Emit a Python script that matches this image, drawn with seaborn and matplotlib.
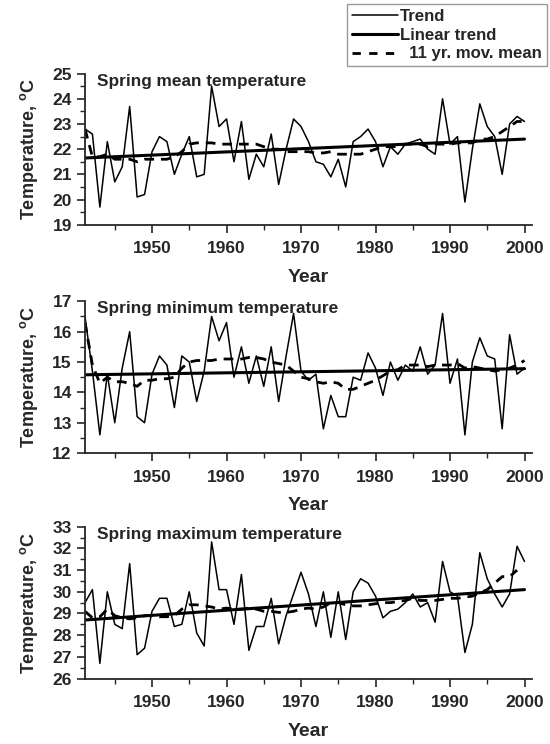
import numpy as np
import pandas as pd
import matplotlib
matplotlib.use("Agg")
import matplotlib.pyplot as plt
from matplotlib.ticker import MultipleLocator
from matplotlib.lines import Line2D
import seaborn as sns

# ---- data ----
years = list(range(1941, 2001))

mean_temp = [22.8, 22.6, 19.7, 22.3, 20.7, 21.3, 23.7, 20.1, 20.2, 21.9,
             22.5, 22.3, 21.0, 21.8, 22.5, 20.9, 21.0, 24.5, 22.9, 23.2,
             21.5, 23.1, 20.8, 21.8, 21.3, 22.6, 20.6, 22.0, 23.2, 22.9,
             22.3, 21.5, 21.4, 20.9, 21.6, 20.5, 22.3, 22.5, 22.8, 22.3,
             21.3, 22.1, 21.8, 22.2, 22.3, 22.4, 22.0, 21.8, 24.0, 22.2,
             22.5, 19.9, 22.0, 23.8, 22.9, 22.5, 21.0, 23.0, 23.3, 23.1]
mean_mov = [22.8, 21.7, 21.7, 21.8, 21.6, 21.6, 21.6, 21.5, 21.6, 21.6,
            21.6, 21.6, 21.7, 21.9, 22.2, 22.25, 22.25, 22.25, 22.2, 22.2,
            22.2, 22.2, 22.2, 22.2, 22.1, 22.0, 22.0, 21.9, 21.9, 21.9,
            21.9, 21.85, 21.85, 21.9, 21.8, 21.8, 21.8, 21.8, 21.9, 22.0,
            22.1, 22.1, 22.1, 22.2, 22.2, 22.2, 22.1, 22.2, 22.2, 22.2,
            22.25, 22.25, 22.25, 22.4, 22.4, 22.5, 22.7, 22.9, 23.1, 23.1]
mean_lin = [21.65, 22.4]

min_temp = [16.5, 14.7, 12.6, 14.6, 13.0, 14.8, 16.0, 13.2, 13.0, 14.6,
            15.2, 14.9, 13.5, 15.2, 15.0, 13.7, 14.7, 16.5, 15.7, 16.3,
            14.5, 15.5, 14.3, 15.2, 14.2, 15.5, 13.7, 15.2, 16.6, 14.7,
            14.4, 14.6, 12.8, 13.9, 13.2, 13.2, 14.5, 14.4, 15.3, 14.8,
            13.9, 15.0, 14.4, 14.9, 14.7, 15.5, 14.6, 14.9, 16.6, 14.3,
            15.1, 12.6, 15.0, 15.8, 15.2, 15.1, 12.8, 15.9, 14.6, 14.8]
min_mov = [16.3, 14.9, 14.3, 14.5, 14.35, 14.35, 14.3, 14.2, 14.4, 14.4,
           14.45, 14.45, 14.5, 14.8, 15.0, 15.05, 15.05, 15.05, 15.1, 15.1,
           15.1, 15.1, 15.15, 15.15, 15.1, 15.0, 14.95, 14.9, 14.7, 14.5,
           14.45, 14.35, 14.3, 14.35, 14.3, 14.1, 14.1, 14.2, 14.3, 14.4,
           14.55, 14.7, 14.75, 14.9, 14.9, 14.9, 14.85, 14.9, 14.9, 14.9,
           14.95, 14.8, 14.85, 14.8, 14.75, 14.7, 14.75, 14.8, 14.9, 15.05]
min_lin = [14.58, 14.78]

max_temp = [29.5, 30.1, 26.7, 30.0, 28.5, 28.3, 31.3, 27.1, 27.4, 29.1,
            29.7, 29.7, 28.4, 28.5, 30.0, 28.1, 27.5, 32.3, 30.1, 30.1,
            28.5, 30.8, 27.3, 28.4, 28.4, 29.7, 27.6, 28.9, 29.9, 30.9,
            29.9, 28.4, 30.0, 27.9, 30.0, 27.8, 30.0, 30.6, 30.4, 29.8,
            28.8, 29.1, 29.2, 29.5, 29.9, 29.3, 29.5, 28.6, 31.4, 30.0,
            29.8, 27.2, 28.5, 31.8, 30.6, 29.9, 29.3, 29.9, 32.1, 31.4]
max_mov = [29.1, 28.8, 28.85, 29.2, 28.9, 28.8, 28.75, 28.8, 28.9, 28.9,
           28.85, 28.85, 28.9, 29.2, 29.4, 29.4, 29.35, 29.3, 29.2, 29.25,
           29.2, 29.2, 29.25, 29.2, 29.1, 29.1, 29.05, 29.05, 29.1, 29.2,
           29.25, 29.2, 29.3, 29.5, 29.5, 29.4, 29.35, 29.35, 29.4, 29.45,
           29.5, 29.5, 29.55, 29.6, 29.7, 29.6, 29.6, 29.6, 29.65, 29.7,
           29.7, 29.75, 29.8, 29.95, 30.1, 30.4, 30.7, 30.7, 31.0, np.nan]
max_lin = [28.7, 30.1]

titles = ["Spring mean temperature", "Spring minimum temperature",
          "Spring maximum temperature"]
ylims = [(19, 25), (12, 17), (26, 33)]

# ---- style ----
sns.set_style("ticks")
plt.rcParams['font.family'] = ['Liberation Sans', 'DejaVu Sans']
plt.rcParams['font.weight'] = 'bold'
plt.rcParams['mathtext.fontset'] = 'custom'
plt.rcParams['mathtext.rm'] = 'Liberation Sans:bold'
plt.rcParams['mathtext.bf'] = 'Liberation Sans:bold'

fig = plt.figure(figsize=(5.5, 7.44), dpi=100)
# axes rectangles [left, bottom, width, height]
boxes = [[0.1545, 0.698, 0.8127, 0.203],
         [0.1545, 0.391, 0.8127, 0.204],
         [0.1545, 0.088, 0.8127, 0.204]]

panels = [(mean_temp, mean_mov, mean_lin),
          (min_temp, min_mov, min_lin),
          (max_temp, max_mov, max_lin)]

dash = (0, (3.5, 2.5))

for box, (temp, mov, lin), title, ylim in zip(boxes, panels, titles, ylims):
    ax = fig.add_axes(box)
    df = pd.DataFrame({"year": years, "temp": temp, "mov": mov})
    lin_df = pd.DataFrame({"year": [years[0], years[-1]], "lin": lin})

    sns.lineplot(data=df, x="year", y="temp", ax=ax, color="black", lw=1.1)
    sns.lineplot(data=df, x="year", y="mov", ax=ax, color="black", lw=2.0,
                 linestyle=dash)
    sns.lineplot(data=lin_df, x="year", y="lin", ax=ax, color="black", lw=2.2)

    ax.set_xlim(1941, 2001)
    ax.set_ylim(*ylim)
    ax.xaxis.set_major_locator(MultipleLocator(10))
    ax.xaxis.set_minor_locator(MultipleLocator(5))
    ax.yaxis.set_major_locator(MultipleLocator(1))
    ax.yaxis.set_minor_locator(MultipleLocator(0.5))
    ax.tick_params(which="major", length=6, width=1.2, labelsize=12.5,
                   direction="out")
    ax.tick_params(which="minor", length=3.5, width=1.0, direction="out")
    ax.tick_params(axis="x", which="major", pad=6)
    ax.tick_params(axis="y", which="major", pad=3.5)
    for lab in ax.get_xticklabels() + ax.get_yticklabels():
        lab.set_fontweight("bold")
    for s in ["left", "bottom"]:
        ax.spines[s].set_linewidth(1.3)
    sns.despine(ax=ax)

    ax.set_xlabel("Year", fontsize=14, fontweight="bold", labelpad=9)
    ax.set_ylabel(r"Temperature, $^{\mathbf{o}}$C", fontsize=13,
                  fontweight="bold", labelpad=9)
    ax.text(0.027, 0.95, title, transform=ax.transAxes, fontsize=12.4,
            fontweight="bold", va="center", ha="left")

handles = [Line2D([], [], color="black", lw=1.1),
           Line2D([], [], color="black", lw=2.2),
           Line2D([], [], color="black", lw=2.0, linestyle=(0, (3, 3)))]
fig.legend(handles, ["Trend", "Linear trend", "  11 yr. mov. mean"],
           loc="upper right", bbox_to_anchor=(0.9945, 0.9946),
           frameon=True, fancybox=False, edgecolor="gray",
           prop={"weight": "bold", "size": 12.1}, handlelength=2.7,
           handletextpad=0.15, labelspacing=0.22, borderpad=0.3,
           borderaxespad=0)

fig.savefig("out.png", dpi=100)
